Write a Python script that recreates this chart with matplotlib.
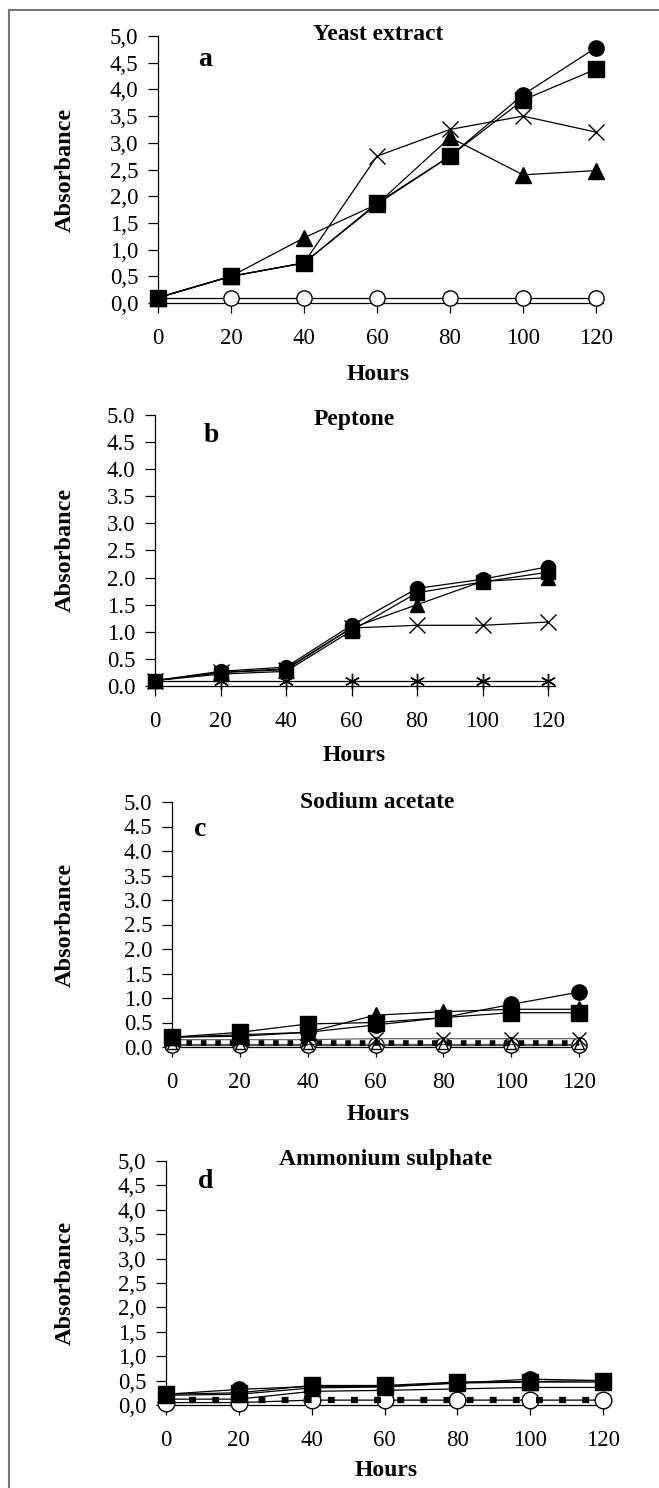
import matplotlib.pyplot as plt
from matplotlib.ticker import FuncFormatter
from matplotlib.lines import Line2D

plt.rcParams['font.family'] = ['Liberation Serif', 'DejaVu Serif']

W, H = 659, 1488

hours = [0, 20, 40, 60, 80, 100, 120]

# a - yeast extract
a_circle = [0.10, 0.50, 0.75, 1.85, 2.75, 3.90, 4.78]
a_square = [0.10, 0.50, 0.75, 1.87, 2.75, 3.80, 4.38]
a_triangle = [0.10, 0.50, 1.22, 1.85, 3.10, 2.40, 2.48]
a_cross = [0.10, 0.50, 0.75, 2.75, 3.25, 3.50, 3.20]
a_open = [0.10, 0.10, 0.10, 0.10, 0.10, 0.10, 0.10]

# b - peptone
b_circle = [0.10, 0.27, 0.35, 1.12, 1.80, 1.97, 2.20]
b_square = [0.10, 0.22, 0.27, 1.02, 1.72, 1.92, 2.10]
b_triangle = [0.10, 0.25, 0.32, 1.07, 1.50, 1.93, 2.00]
b_cross = [0.10, 0.25, 0.30, 1.07, 1.12, 1.12, 1.18]
b_star = [0.10, 0.10, 0.10, 0.10, 0.10, 0.10, 0.10]

# c - sodium acetate
c_circle = [0.20, 0.22, 0.30, 0.45, 0.60, 0.87, 1.12]
c_square = [0.20, 0.30, 0.47, 0.50, 0.60, 0.70, 0.70]
c_triangle = [0.20, 0.25, 0.30, 0.65, 0.72, 0.77, 0.77]
c_cross = [0.15, 0.15, 0.15, 0.17, 0.17, 0.17, 0.17]
c_open_tri = [0.07, 0.07, 0.07, 0.07, 0.07, 0.07, 0.07]
c_open = [0.05, 0.05, 0.05, 0.05, 0.05, 0.05, 0.05]
c_dotted = [0.08, 0.08, 0.08, 0.08, 0.08, 0.08, 0.08]

# d - ammonium sulphate
d_circle = [0.22, 0.32, 0.38, 0.38, 0.45, 0.53, 0.50]
d_square = [0.22, 0.25, 0.40, 0.40, 0.47, 0.48, 0.50]
d_triangle = [0.20, 0.22, 0.35, 0.37, 0.45, 0.47, 0.47]
d_line = [0.12, 0.12, 0.28, 0.30, 0.33, 0.36, 0.36]
d_open = [0.05, 0.05, 0.10, 0.10, 0.10, 0.10, 0.10]
d_dotted = [0.10, 0.10, 0.10, 0.10, 0.10, 0.10, 0.10]

fig = plt.figure(figsize=(W / 100, H / 100), dpi=100)


def make_axes(x0, x120, y5, y0):
    # pixel positions of x=0, x=120, y=5 and y=0
    xmax = 122
    right = x0 + (x120 - x0) * xmax / 120
    ax = fig.add_axes([x0 / W, 1 - y0 / H, (right - x0) / W, (y0 - y5) / H])
    ax.set_xlim(0, xmax)
    ax.set_ylim(0, 5)
    return ax


def style(ax, sep):
    for s in ['top', 'right']:
        ax.spines[s].set_visible(False)
    for s in ['left', 'bottom']:
        ax.spines[s].set_linewidth(0.9)
    ax.set_xticks(hours)
    ax.set_yticks([0, 0.5, 1, 1.5, 2, 2.5, 3, 3.5, 4, 4.5, 5])
    ax.yaxis.set_major_formatter(FuncFormatter(lambda v, p: f"{v:.1f}".replace('.', sep)))
    ax.tick_params(direction='out', length=7, width=0.9, labelsize=16.5)
    ax.tick_params(axis='y', pad=7)
    ax.tick_params(axis='x', pad=11)


def text_px(x, y, s, size=17, **kw):
    fig.text(x / W, 1 - y / H, s, fontsize=size, fontweight='bold',
             ha='center', va='center', **kw)


def pl(ax, y, m, ms=10, mfc='black', ls='-', color='black', lw=0.9, z=3):
    ax.plot(hours, y, marker=m, ms=ms, mfc=mfc, mec='black', ls=ls,
            color=color, lw=lw, clip_on=False, zorder=z)


# panel a
ax = make_axes(158, 596, 36, 303)
style(ax, ',')
pl(ax, a_open, 'o', mfc='white', ms=11)
pl(ax, a_cross, 'x', ms=11, mfc='none')
pl(ax, a_triangle, '^', ms=11)
pl(ax, a_square, 's', ms=11)
pl(ax, a_circle, 'o', ms=11)
text_px(378, 34, "Yeast extract")
text_px(205, 59, "a", size=20)
text_px(378, 374, "Hours")
text_px(65, 170, "Absorbance", rotation=90, size=17.5)

# panel b
ax = make_axes(155, 548, 415, 686)
style(ax, '.')
pl(ax, b_star, (6, 2, 0), ms=11, mfc='none')
pl(ax, b_cross, 'x', ms=11, mfc='none')
pl(ax, b_triangle, '^', ms=10)
pl(ax, b_square, 's', ms=10)
pl(ax, b_circle, 'o', ms=10)
text_px(354, 419, "Peptone")
text_px(211, 436, "b", size=20)
text_px(354, 755, "Hours")
text_px(65, 550, "Absorbance", rotation=90, size=17.5)

# panel c
ax = make_axes(172, 579, 802, 1047)
style(ax, '.')
pl(ax, c_open, 'o', mfc='white', ms=11, color='#555555')
pl(ax, c_open_tri, '^', mfc='none', ms=7, color='#555555')
pl(ax, c_dotted, None, ls=(0, (1.0, 1.6)), lw=4, z=4)
pl(ax, c_cross, 'x', ms=10, mfc='none', color='#666666')
pl(ax, c_triangle, '^', ms=11)
pl(ax, c_square, 's', ms=11)
pl(ax, c_circle, 'o', ms=11)
text_px(377, 803, "Sodium acetate")
text_px(200, 829, "c", size=20)
text_px(378, 1115, "Hours")
text_px(65, 925, "Absorbance", rotation=90, size=17.5)

# panel d
ax = make_axes(166, 603, 1161, 1405)
style(ax, ',')
pl(ax, d_open, 'o', mfc='white', ms=12)
pl(ax, d_dotted, None, ls=(0, (1.1, 2.6)), lw=4.5, z=4)
pl(ax, d_line, None)
pl(ax, d_triangle, '^', ms=11)
pl(ax, d_square, 's', ms=11)
pl(ax, d_circle, 'o', ms=11)
text_px(386, 1159, "Ammonium sulphate")
text_px(206, 1182, "d", size=20)
text_px(386, 1470, "Hours")
text_px(65, 1283, "Absorbance", rotation=90, size=17.5)

# frame around the figure
fig.add_artist(Line2D([9 / W, 9 / W], [0, 1 - 10 / H], color='#777777', lw=1.5))
fig.add_artist(Line2D([9 / W, 1], [1 - 10 / H, 1 - 10 / H], color='#777777', lw=1.5))

plt.savefig("out.png", dpi=100)
